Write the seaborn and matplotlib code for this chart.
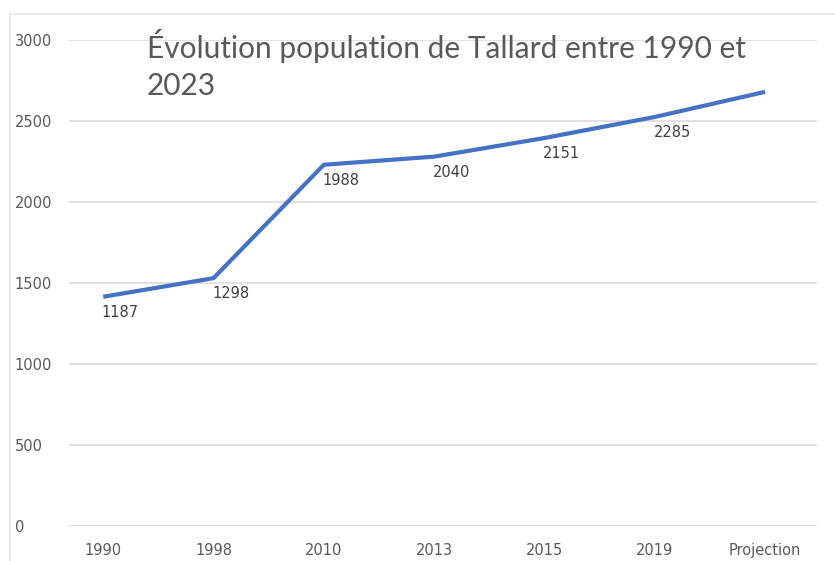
import numpy as np
import pandas as pd
import matplotlib
matplotlib.use("Agg")
import matplotlib.pyplot as plt
import seaborn as sns
from matplotlib.lines import Line2D

# ===== DATA =====
categories = ["1990", "1998", "2010", "2013", "2015", "2019", "Projection"]
line_values = [1415, 1530, 2230, 2280, 2395, 2525, 2680]
point_labels = ["1187", "1298", "1988", "2040", "2151", "2285", ""]
y_ticks = [0, 500, 1000, 1500, 2000, 2500, 3000]
title = "Évolution population de Tallard entre 1990 et\n2023"

df = pd.DataFrame({"x": np.arange(len(categories)), "pop": line_values})

# ===== STYLE =====
sns.set_theme(style="white")
plt.rcParams['font.family'] = ['DejaVu Sans']
grey = "#595959"
num_font = 10.5

fig = plt.figure(figsize=(8.35, 5.61), dpi=100)
ax = fig.add_axes([69 / 835, 1 - 526 / 561, (817 - 69) / 835, (526 - 40) / 561])

for y in y_ticks:
    ax.axhline(y, color="#d9d9d9", lw=1.1, zorder=0)

sns.lineplot(data=df, x="x", y="pop", ax=ax, color="#4472C4", lw=3.0,
             solid_capstyle="butt", solid_joinstyle="miter")

for xi, yi, lab in zip(df["x"], df["pop"], point_labels):
    ax.annotate(lab, (xi, yi), xytext=(-1, -6), textcoords="offset points",
                ha="left", va="top", fontsize=num_font, color="#404040")

ax.set_ylim(0, 3000)
ax.set_xlim(-0.31, 6.47)
ax.set_yticks(y_ticks)
ax.set_yticklabels([str(v) for v in y_ticks], fontsize=num_font, color=grey, ha="left")
ax.tick_params(axis="y", length=0, pad=39)
ax.set_xticks(df["x"])
ax.set_xticklabels(categories, fontsize=num_font, color=grey)
ax.tick_params(axis="x", length=0, pad=12)
ax.set_xlabel("")
ax.set_ylabel("")
sns.despine(ax=ax, left=True, bottom=True)

fig.text(147 / 835, 1 - 29 / 561, title, ha="left", va="top", fontsize=21.5,
         color=grey, linespacing=1.38, family=['Lato', 'DejaVu Sans'])

# chart frame (top and left edges visible in the reference)
fig.add_artist(Line2D([10 / 835, 1], [1 - 14 / 561, 1 - 14 / 561],
                      transform=fig.transFigure, color="#e6e6e6", lw=1.2))
fig.add_artist(Line2D([10 / 835, 10 / 835], [0, 1 - 14 / 561],
                      transform=fig.transFigure, color="#e6e6e6", lw=1.2))

plt.savefig("out.png", dpi=100)
plt.close()
